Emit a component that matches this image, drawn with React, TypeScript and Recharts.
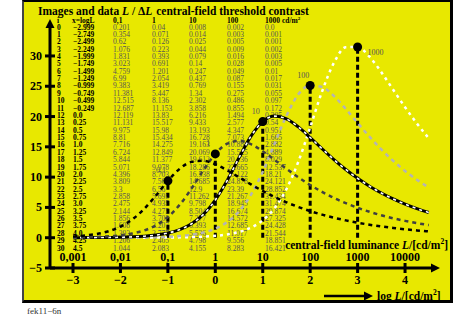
import React from "react"
import { ComposedChart, Line, Scatter, XAxis, YAxis, ReferenceLine } from "recharts"

// x = log L of the surround, one row per step of 0.25
const logL = [
  -2.999, -2.749, -2.499, -2.249, -1.999, -1.749, -1.499, -1.249, -0.999, -0.749, -0.499, -0.249,
  0, 0.25, 0.5, 0.75, 1, 1.25, 1.5, 1.75, 2, 2.25, 2.5, 2.75, 3, 3.25, 3.5, 3.75, 4, 4.25, 4.5,
]

// L / delta L for the central-field luminances 0,1 ... 1000 cd/m2
const lum01 = [
  0.201, 0.354, 0.62, 1.076, 1.831, 3.023, 4.759, 6.99, 9.383, 11.381, 12.515, 12.687, 12.119, 11.131,
  9.975, 8.81, 7.716, 6.724, 5.844, 5.071, 4.396, 3.809, 3.3, 2.858, 2.475, 2.144, 1.856, 1.608, 1.393,
  1.206, 1.044,
]
const lum1 = [
  0.04, 0.071, 0.126, 0.223, 0.393, 0.691, 1.201, 2.054, 3.419, 5.447, 8.136, 11.153, 13.83, 15.517,
  15.98, 15.434, 14.275, 12.849, 11.377, 9.978, 8.703, 7.563, 6.56, 5.695, 4.935, 4.275, 3.703, 3.207,
  2.777, 2.405, 2.083,
]
const lum10 = [
  0.008, 0.014, 0.025, 0.044, 0.079, 0.14, 0.247, 0.437, 0.769, 1.34, 2.302, 3.858, 6.216, 9.433,
  13.193, 16.728, 19.163, 20.069, 19.612, 18.286, 16.538, 14.685, 12.9, 11.262, 9.798, 8.504, 7.377,
  6.393, 5.536, 4.798, 4.155,
]
const lum100 = [
  0.002, 0.003, 0.005, 0.009, 0.016, 0.028, 0.049, 0.087, 0.155, 0.275, 0.486, 0.855, 1.494, 2.577,
  4.347, 7.073, 10.884, 15.525, 20.136, 23.665, 25.122, 24.878, 23.39, 21.267, 18.945, 16.674, 14.572,
  12.685, 11.017, 9.556, 8.283,
]
const lum1000 = [
  0.0, 0.001, 0.001, 0.002, 0.003, 0.005, 0.01, 0.017, 0.031, 0.055, 0.097, 0.172, 0.305, 0.54, 0.951,
  1.665, 2.882, 4.889, 8.029, 12.537, 18.21, 24.121, 28.852, 31.434, 31.474, 29.874, 27.325, 24.428,
  21.544, 18.851, 16.421,
]

const lumLabels = ["0,1", "1", "10", "100", "1000"]
const peakIndex = [8, 12, 16, 20, 24]
const xTicks = [-3, -2, -1, 0, 1, 2, 3, 4]
const xTopLabels = ["0,001", "0,01", "0,1", "1", "10", "100", "1000", "10000"]
const yTicks = [-5, 0, 5, 10, 15, 20, 25, 30]

const series = [lum01, lum1, lum10, lum100, lum1000]
const data = logL.map((x, i) => ({
  x,
  l01: lum01[i],
  l1: lum1[i],
  l10: lum10[i],
  l10w: lum10[i],
  l100: lum100[i],
  l1000: lum1000[i],
}))
const dots = peakIndex.map((idx, k) => ({ x: logL[idx], y: series[k][idx], label: lumLabels[k] }))

const X_DOMAIN: [number, number] = [-3.485, 4.737]
const Y_DOMAIN: [number, number] = [-5, 36.1]
const serif = "'Liberation Serif', 'Times New Roman', serif"
const yellow = "#e8e800"
const valueGrey = "#555"

const fmtX = (v: number) => (Number.isInteger(v) ? v.toFixed(1) : String(v)).replace("-", "\u2212")
const fmtV = (v: number) => (v === 0 ? "0.0" : String(v))

function XTick(props: any) {
  const { x, y, payload, index } = props
  return (
    <g>
      <line x1={x} y1={y - 5} x2={x} y2={y + 5} stroke="#000" strokeWidth={3} />
      <text x={x} y={y + 12} textAnchor="middle" dominantBaseline="central" fontFamily={serif}
        fontWeight="bold" fontSize={12} fill="#000">
        {String(payload.value).replace("-", "\u2212")}
      </text>
      <text x={x} y={y - 11} textAnchor="middle" dominantBaseline="central" fontFamily={serif}
        fontWeight="bold" fontSize={12} fill="#000">
        {xTopLabels[index]}
      </text>
    </g>
  )
}

function YTick(props: any) {
  const { x, y, payload } = props
  return (
    <g>
      <line x1={x - 5} y1={y} x2={x + 5} y2={y} stroke="#000" strokeWidth={3} />
      <text x={x - 8} y={y} textAnchor="end" dominantBaseline="central" fontFamily={serif}
        fontWeight="bold" fontSize={12} fill="#000">
        {String(payload.value).replace("-", "\u2212")}
      </text>
    </g>
  )
}

function AxisArrow(props: any) {
  const { x1, y1, x2, y2 } = props
  const horiz = Math.abs(y2 - y1) < 1
  const head = horiz
    ? `${x2},${y2} ${x2 - 9},${y2 - 4.5} ${x2 - 9},${y2 + 4.5}`
    : `${x2},${y2} ${x2 - 4.5},${y2 + 9} ${x2 + 4.5},${y2 + 9}`
  return (
    <g>
      <line x1={x1} y1={y1} x2={horiz ? x2 - 6 : x2} y2={horiz ? y2 : y2 + 6} stroke="#000" strokeWidth={3} />
      <polygon points={head} fill="#000" />
    </g>
  )
}

function PeakDot(props: any) {
  const { cx, cy, payload, index } = props
  const right = index === dots.length - 1
  return (
    <g>
      <circle cx={cx} cy={cy} r={4.5} fill="#000" />
      <text x={right ? cx + 10 : cx - 7} y={right ? cy + 5 : cy - 10} textAnchor={right ? "start" : "middle"}
        dominantBaseline="central" fontFamily={serif} fontSize={8} fill={valueGrey}>
        {payload.label}
      </text>
    </g>
  )
}

const colX = [113, 152, 189, 227, 265]
const rowY = (i: number) => 27 + 7.37 * i

function Overlay() {
  return (
    <svg width={457} height={317} style={{ position: "absolute", left: 0, top: 0 }} fontFamily={serif}>
      <text x={38} y={11} dominantBaseline="central" fontSize={11.5} fontWeight="bold" fill="#000">
        Images and data <tspan fontStyle="italic">L</tspan> / Δ<tspan fontStyle="italic">L</tspan>
        <tspan dx={4}>central-field threshold contrast</tspan>
      </text>
      <g fontSize={7.5} dominantBaseline="central">
        <text x={57} y={20} fontWeight="bold">i</text>
        <text x={72} y={20} fontWeight="bold">x=logL</text>
        {lumLabels.map((l, k) => (
          <text key={l} x={colX[k]} y={20} fontWeight="bold">
            {l}
            {k === 4 ? (
              <>
                <tspan> cd/m</tspan>
                <tspan dy={-2.5} fontSize={5}>2</tspan>
              </>
            ) : null}
          </text>
        ))}
        {logL.map((x, i) => (
          <g key={i}>
            <text x={57} y={rowY(i)} fontWeight="bold">{i}</text>
            <text x={73} y={rowY(i)} fontWeight="bold">{fmtX(x)}</text>
            {series.map((s, k) => (
              <text key={k} x={colX[k]} y={rowY(i)} fill={valueGrey}>{fmtV(s[i])}</text>
            ))}
          </g>
        ))}
      </g>
      <text x={448} y={245} textAnchor="end" dominantBaseline="central" fontSize={11.5} fontWeight="bold">
        central-field luminance <tspan fontStyle="italic">L</tspan>/[cd/m<tspan dy={-4} fontSize={7.5}>2</tspan>
        <tspan dy={4}>]</tspan>
      </text>
      <line x1={324} y1={296} x2={366} y2={296} stroke="#000" strokeWidth={2.5} />
      <polygon points="373,296 364,291.5 364,300.5" fill="#000" />
      <text x={377} y={296} dominantBaseline="central" fontSize={11.5} fontWeight="bold">
        log <tspan fontStyle="italic">L</tspan>/[cd/m<tspan dy={-4} fontSize={7.5}>2</tspan>
        <tspan dy={4}>]</tspan>
      </text>
      <text x={27} y={311} dominantBaseline="central" fontSize={9} fill="#333">fek11−6n</text>
    </svg>
  )
}

export default function App() {
  return (
    <div style={{ position: "absolute", left: 0, top: 0, width: 457, height: 317, background: "#fff" }}>
      <div
        style={{
          position: "absolute", left: 22, top: 0, width: 431, height: 303, boxSizing: "border-box",
          background: yellow, borderLeft: "2px solid #444", borderTop: "2px solid #000",
          borderRight: "3px solid #000", borderBottom: "3px solid #000",
        }}
      />
      <Overlay />
      <div style={{ position: "absolute", left: 0, top: 0 }}>
        <ComposedChart width={457} height={317} data={data} margin={{ top: 19, right: 17, bottom: 19, left: 22 }}>
          <XAxis type="number" dataKey="x" domain={X_DOMAIN} ticks={xTicks} interval={0} allowDataOverflow
            axisLine={false} tickLine={false} tickSize={0} tickMargin={0} height={30} tick={XTick} />
          <YAxis type="number" domain={Y_DOMAIN} ticks={yTicks} interval={0} allowDataOverflow
            axisLine={false} tickLine={false} tickSize={0} tickMargin={0} width={28} tick={YTick} />
          <ReferenceLine segment={[{ x: X_DOMAIN[0], y: -5 }, { x: X_DOMAIN[1], y: -5 }]} shape={AxisArrow} />
          <ReferenceLine segment={[{ x: X_DOMAIN[0], y: -5 }, { x: X_DOMAIN[0], y: Y_DOMAIN[1] }]} shape={AxisArrow} />
          {dots.map((d) => (
            <ReferenceLine key={d.label} segment={[{ x: d.x, y: 0 }, { x: d.x, y: d.y }]}
              stroke="#000" strokeWidth={3} strokeDasharray="5 3" />
          ))}
          <Line type="monotone" dataKey="l1000" stroke="#fff" strokeWidth={2.5} strokeDasharray="3 4"
            dot={false} isAnimationActive={false} />
          <Line type="monotone" dataKey="l100" stroke="#b4b4b4" strokeWidth={2.5} strokeDasharray="4 4"
            dot={false} isAnimationActive={false} />
          <Line type="monotone" dataKey="l10" stroke="#000" strokeWidth={3}
            dot={false} isAnimationActive={false} />
          <Line type="monotone" dataKey="l10w" stroke="#fff" strokeWidth={1.6} strokeDasharray="3 4"
            dot={false} isAnimationActive={false} />
          <Line type="monotone" dataKey="l1" stroke="#404040" strokeWidth={2.5} strokeDasharray="4 4"
            dot={false} isAnimationActive={false} />
          <Line type="monotone" dataKey="l01" stroke="#000" strokeWidth={2.5} strokeDasharray="4 4"
            dot={false} isAnimationActive={false} />
          <Scatter data={dots} dataKey="y" shape={PeakDot} isAnimationActive={false} />
        </ComposedChart>
      </div>
    </div>
  )
}
